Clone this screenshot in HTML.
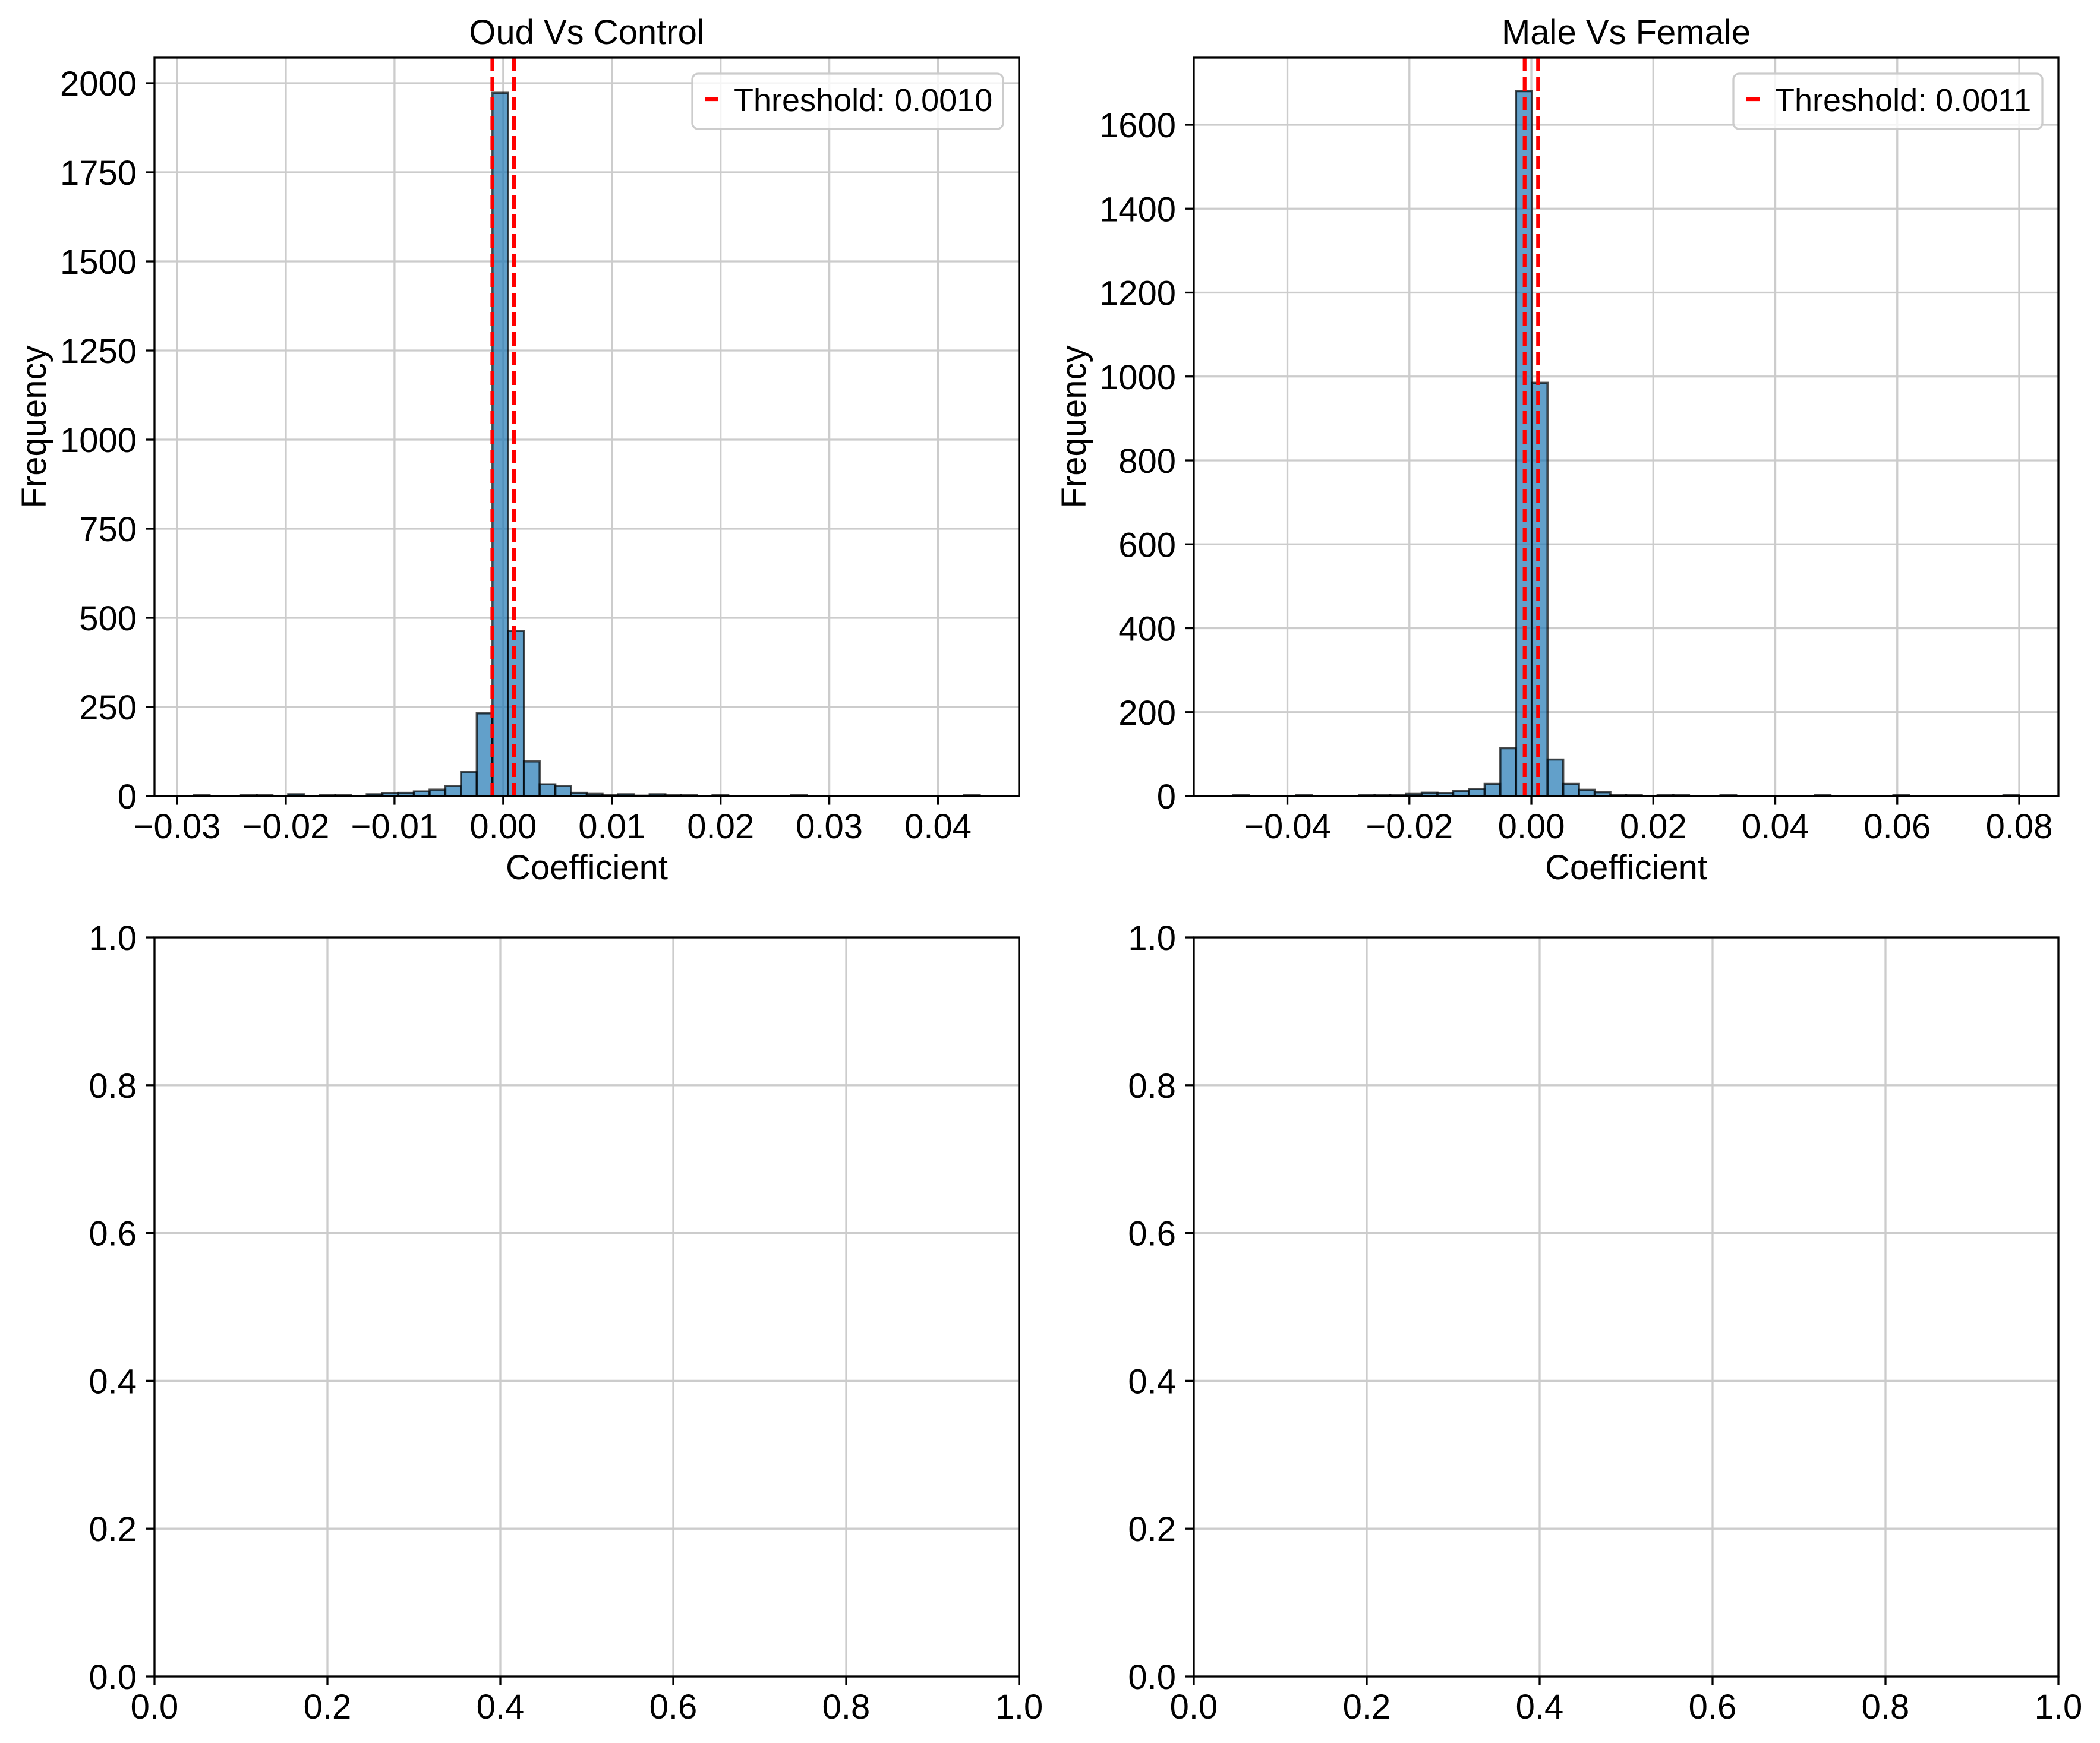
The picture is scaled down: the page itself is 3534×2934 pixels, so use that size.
<!DOCTYPE html>
<html><head><meta charset="utf-8"><title>Coefficient histograms</title>
<style>
html,body{margin:0;padding:0;background:#fff;}
svg{display:block;font-family:"Liberation Sans",Arial,sans-serif;}
</style></head>
<body>
<svg id="fig" xmlns="http://www.w3.org/2000/svg" width="3534" height="2934" viewBox="0 0 3534 2934"></svg>
<script>
// ---- Data: Oud vs Control ----
const oudBinStart = -0.02846;
const oudBinWidth = 0.001446;
const oudCounts = [3,0,0,3,3,0,5,0,3,3,0,5,8,9,13,18,28,68,232,1973,463,97,33,28,9,6,3,5,1,5,3,3,0,3,0,0,0,0,3,0,0,0,0,0,0,0,0,0,0,3];
const oudThreshold = 0.0010;
const oudXTicks = [-0.03,-0.02,-0.01,0.00,0.01,0.02,0.03,0.04];
const oudXTickLabels = ["\u22120.03","\u22120.02","\u22120.01","0.00","0.01","0.02","0.03","0.04"];
const oudYTicks = [0,250,500,750,1000,1250,1500,1750,2000];
const oudXLim = [-0.03208, 0.04746];
const oudYLim = [0, 2071.7];

// ---- Data: Male vs Female ----
const mfBinStart = -0.04891;
const mfBinWidth = 0.002578;
const mfCounts = [3,0,0,0,3,0,0,0,3,3,3,5,8,7,12,17,29,114,1680,985,87,29,15,9,3,3,0,3,3,0,0,3,0,0,0,0,0,3,0,0,0,0,3,0,0,0,0,0,0,3];
const mfThreshold = 0.0011;
const mfXTicks = [-0.04,-0.02,0.00,0.02,0.04,0.06,0.08];
const mfXTickLabels = ["\u22120.04","\u22120.02","0.00","0.02","0.04","0.06","0.08"];
const mfYTicks = [0,200,400,600,800,1000,1200,1400,1600];
const mfXLim = [-0.05535, 0.08643];
const mfYLim = [0, 1760];

// ---- Empty panels ----
const unitTicks = [0,0.2,0.4,0.6,0.8,1.0];
const unitTickLabels = ["0.0","0.2","0.4","0.6","0.8","1.0"];

const NS = "http://www.w3.org/2000/svg";
const svg = document.getElementById('fig');
function el(tag, attrs, parent){
  const e = document.createElementNS(NS, tag);
  for (const k in attrs) e.setAttribute(k, attrs[k]);
  (parent||svg).appendChild(e);
  return e;
}

function panel(cfg){
  const g = el('g', {});
  
  
  const L=cfg.box[0], T=cfg.box[1], R=cfg.box[2], B=cfg.box[3];
  const sx = v => L + (v - cfg.xlim[0])/(cfg.xlim[1]-cfg.xlim[0])*(R-L);
  const sy = v => B - (v - cfg.ylim[0])/(cfg.ylim[1]-cfg.ylim[0])*(B-T);
  cfg.xticks.forEach(v=>{
    const ln = el('line',{x1:sx(v),x2:sx(v),y1:T,y2:B,stroke:'#cccccc','stroke-width':3.3},g);
    
    
  });
  cfg.yticks.forEach(v=>{
    const ln = el('line',{x1:L,x2:R,y1:sy(v),y2:sy(v),stroke:'#cccccc','stroke-width':3.3},g);
    
    
  });
  if (cfg.counts){
    cfg.counts.forEach((c,i)=>{
      const x0 = sx(cfg.binStart + i*cfg.binWidth), x1 = sx(cfg.binStart + (i+1)*cfg.binWidth);
      const r = el('rect',{x:x0,y:sy(c),width:x1-x0,height:sy(0)-sy(c),fill:'#1f77b4','fill-opacity':0.7,stroke:'#000','stroke-opacity':0.7,'stroke-width':3.5},g);
      
      
    });
    [-cfg.threshold, cfg.threshold].forEach(t=>{
      const ln = el('line',{x1:sx(t),x2:sx(t),y1:T,y2:B,stroke:'#ff0000','stroke-width':6.25,'stroke-dasharray':'23 10'},g);
      
      
    });
  }
  const sp = el('rect',{x:L,y:T,width:R-L,height:B-T,fill:'none',stroke:'#000','stroke-width':3.3},g);
  
  
  cfg.xticks.forEach((v,i)=>{
    el('line',{x1:sx(v),x2:sx(v),y1:B,y2:B+14.6,stroke:'#000','stroke-width':3.3},g);
    const t = el('text',{x:sx(v),y:B+71,'font-size':58,'text-anchor':'middle',fill:'#000'},g);
    t.textContent = cfg.xlabels[i];
    
    
  });
  cfg.yticks.forEach((v,i)=>{
    el('line',{x1:L-14.6,x2:L,y1:sy(v),y2:sy(v),stroke:'#000','stroke-width':3.3},g);
    const t = el('text',{x:L-30,y:sy(v)+21,'font-size':58,'text-anchor':'end',fill:'#000'},g);
    t.textContent = cfg.ylabels[i];
    
    
  });
  if (cfg.title){
    const t = el('text',{x:(L+R)/2,y:T-23,'font-size':58,'text-anchor':'middle',fill:'#000'},g);
    t.textContent = cfg.title;
    
    
    const xl = el('text',{x:(L+R)/2,y:B+140,'font-size':58,'text-anchor':'middle',fill:'#000'},g);
    xl.textContent = 'Coefficient';
    
    
    const yc = (T+B)/2, yx = cfg.ylabelX;
    const yl = el('text',{x:yx,y:yc,'font-size':58,'text-anchor':'middle',fill:'#000',transform:`rotate(-90 ${yx} ${yc})`},g);
    yl.textContent = 'Frequency';
    
    
    const lg = el('g',{},g);
    
    
    el('rect',{x:cfg.legend[0],y:124,width:cfg.legend[1]-cfg.legend[0],height:93,rx:10,fill:'#fff','fill-opacity':0.8,stroke:'#cccccc','stroke-width':3.3},lg);
    el('line',{x1:cfg.legend[0]+21,x2:cfg.legend[0]+44,y1:167,y2:167,stroke:'#ff0000','stroke-width':6.25},lg);
    const lt = el('text',{x:cfg.legend[0]+70,y:187,'font-size':54,fill:'#000'},lg);
    lt.textContent = 'Threshold: ' + cfg.threshold.toFixed(4);
    
    
  }
}

panel({name:'oud-vs-control-panel',box:[260,97,1715,1340],xlim:oudXLim,ylim:oudYLim,
  xticks:oudXTicks,xlabels:oudXTickLabels,yticks:oudYTicks,ylabels:oudYTicks.map(String),
  counts:oudCounts,binStart:oudBinStart,binWidth:oudBinWidth,threshold:oudThreshold,
  title:'Oud Vs Control',ylabelX:77,legend:[1165,1688]});
panel({name:'male-vs-female-panel',box:[2009,97,3464,1340],xlim:mfXLim,ylim:mfYLim,
  xticks:mfXTicks,xlabels:mfXTickLabels,yticks:mfYTicks,ylabels:mfYTicks.map(String),
  counts:mfCounts,binStart:mfBinStart,binWidth:mfBinWidth,threshold:mfThreshold,
  title:'Male Vs Female',ylabelX:1827,legend:[2917,3437]});
panel({name:'empty-panel-bottom-left',box:[260,1578,1715,2822],xlim:[0,1],ylim:[0,1],
  xticks:unitTicks,xlabels:unitTickLabels,yticks:unitTicks,ylabels:unitTickLabels});
panel({name:'empty-panel-bottom-right',box:[2009,1578,3464,2822],xlim:[0,1],ylim:[0,1],
  xticks:unitTicks,xlabels:unitTickLabels,yticks:unitTicks,ylabels:unitTickLabels});
</script>
</body></html>
